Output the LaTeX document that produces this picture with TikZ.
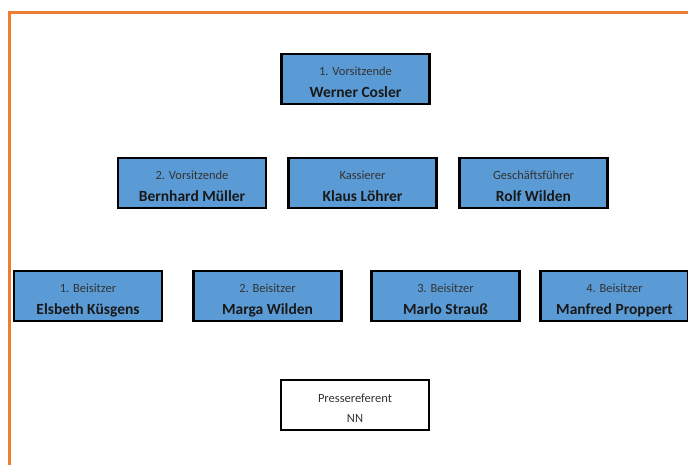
\documentclass[tikz,border=0pt]{standalone}
\usepackage{fontspec}
\setmainfont{Carlito}
\definecolor{boxblue}{RGB}{91,155,213}
\definecolor{frameorange}{RGB}{237,125,49}
\tikzset{
  orgbox/.style={draw=black, line width=2.2pt, fill=boxblue, minimum width=148pt, minimum height=50pt, inner sep=0pt, align=center},
  whitebox/.style={orgbox, fill=white},
  roletext/.style={font=\fontsize{12.5}{14}\selectfont, text=black!80},
  nametext/.style={font=\fontsize{15.5}{18}\selectfont\bfseries, text=black!90},
}
\newcommand{\orgentry}[5]{%
  \node[orgbox] (#1) at (#2,#3) {};
  \node[roletext, anchor=base] (#1r) at ([yshift=4pt]#1.center) {#4};
  \node[nametext, anchor=base] (#1n) at ([yshift=-18pt]#1.center) {#5};
}
\begin{document}
\begin{tikzpicture}[x=1pt,y=-1pt]
\useasboundingbox (0,0) rectangle (688,464);
\fill[white] (0,0) rectangle (688,464);
\draw[frameorange, line width=3pt] (9.5,470) -- (9.5,12) -- (700,12);
\orgentry{v1}{355.5}{79}{1. Vorsitzende}{Werner Cosler}
\orgentry{v2}{192}{183}{2. Vorsitzende}{Bernhard Müller}
\orgentry{ka}{362.5}{183}{Kassierer}{Klaus Löhrer}
\orgentry{gf}{533.5}{183}{Geschäftsführer}{Rolf Wilden}
\orgentry{b1}{88}{296}{1. Beisitzer}{Elsbeth Küsgens}
\orgentry{b2}{267.5}{296}{2. Beisitzer}{Marga Wilden}
\orgentry{b3}{445.5}{296}{3. Beisitzer}{Marlo Strauß}
\orgentry{b4}{614.5}{296}{4. Beisitzer}{Manfred Proppert}
\node[whitebox] (pr) at (355,405) {};
\node[roletext, anchor=base] (prr) at ([yshift=3pt]pr.center) {Pressereferent};
\node[roletext, anchor=base] (prn) at ([yshift=-17pt]pr.center) {NN};
\end{tikzpicture}
\end{document}
